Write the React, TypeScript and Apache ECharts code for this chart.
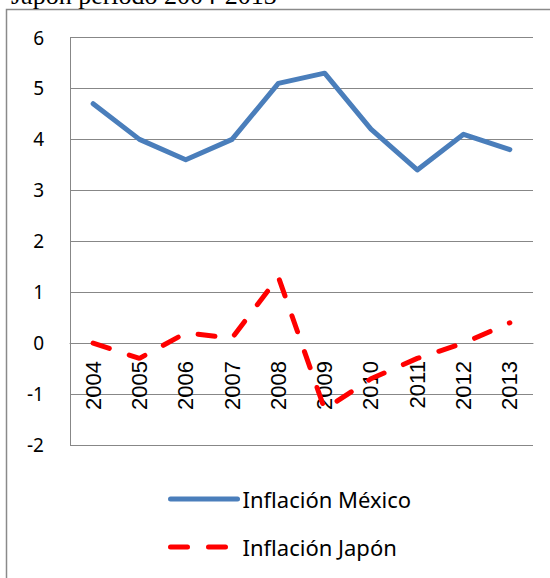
import React, { useEffect, useRef } from "react";
import * as echarts from "echarts";

const years = ["2004", "2005", "2006", "2007", "2008", "2009", "2010", "2011", "2012", "2013"];
const mexico = [4.7, 4.0, 3.6, 4.0, 5.1, 5.3, 4.2, 3.4, 4.1, 3.8];
const japon = [0.0, -0.3, 0.2, 0.1, 1.3, -1.3, -0.7, -0.3, 0.0, 0.4];
const seriesNames = ["Inflación México", "Inflación Japón"];
const titleText = "Japón período 2004-2013";
const yMin = -2;
const yMax = 6;

export default function App() {
  const ref = useRef<HTMLDivElement>(null);
  useEffect(() => {
    if (!ref.current) return;
    const chart = echarts.init(ref.current, null, { renderer: "svg" });
    const gray = "#878787";
    const gridTop = 37.5;
    const gridBottom = 133;
    const plotH = 578 - gridTop - gridBottom;
    const zeroOffset = -(plotH * (0 - yMin)) / (yMax - yMin);
    chart.setOption({
      animation: false,
      backgroundColor: "#ffffff",
      graphic: [
        {
          type: "rect",
          shape: { x: 6.5, y: 9.5, width: 600, height: 600 },
          style: { fill: "none", stroke: "#8a8a8a", lineWidth: 1.5 },
          z: -1,
        },
        {
          type: "text",
          x: 11,
          y: -5,
          style: {
            text: titleText,
            font: "26px 'Liberation Serif'",
            fill: "#000",
            verticalAlign: "middle",
          },
        },
      ],
      grid: { left: 70, right: 17, top: gridTop, bottom: gridBottom, containLabel: false },
      xAxis: {
        type: "category",
        data: years,
        boundaryGap: true,
        offset: zeroOffset,
        axisLine: { show: true, onZero: false, lineStyle: { color: gray, width: 1 } },
        axisTick: { show: false },
        axisLabel: {
          rotate: 90,
          margin: 18,
          fontSize: 22,
          fontFamily: "Liberation Sans",
          color: "#000",
        },
        splitLine: { show: false },
      },
      yAxis: {
        type: "value",
        min: yMin,
        max: yMax,
        interval: 1,
        axisLine: { show: true, lineStyle: { color: gray, width: 1 } },
        axisTick: { show: false },
        axisLabel: { margin: 26, fontSize: 19, fontFamily: "Noto Sans", color: "#000" },
        splitLine: { show: true, lineStyle: { color: gray, width: 1 } },
      },
      legend: {
        orient: "vertical",
        left: 163,
        top: 482,
        itemWidth: 67,
        itemHeight: 14,
        itemGap: 24,
        itemStyle: { opacity: 0 },
        lineStyle: { width: 5, cap: "round" },
        textStyle: { fontSize: 22, fontFamily: "Noto Sans", color: "#000", lineHeight: 24 },
        data: seriesNames,
      },
      series: [
        {
          name: seriesNames[1],
          type: "line",
          data: japon,
          symbol: "none",
          lineStyle: { color: "#ff0000", width: 5, type: [17, 21], cap: "round" },
          itemStyle: { color: "#ff0000" },
        },
        {
          name: seriesNames[0],
          type: "line",
          data: mexico,
          symbol: "none",
          lineStyle: { color: "#4a7ebb", width: 5, cap: "round", join: "round" },
          itemStyle: { color: "#4a7ebb" },
        },
      ],
    });
    return () => chart.dispose();
  }, []);
  return (
    <div
      ref={ref}
      style={{ position: "absolute", left: 0, top: 0, width: 550, height: 578 }}
    />
  );
}
